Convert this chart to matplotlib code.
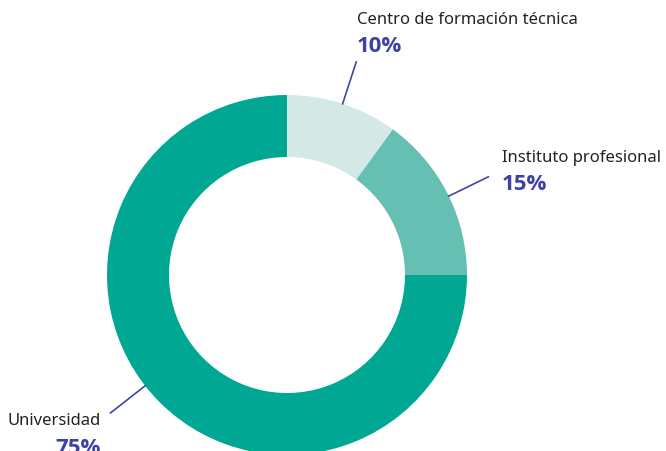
import numpy as np
import matplotlib.pyplot as plt

# Data
labels = ['Centro de formación técnica', 'Instituto profesional', 'Universidad']
values = [10, 15, 75]
pct_labels = ['10%', '15%', '75%']
colors = ['#d4e8e5', '#66bfb3', '#00a893']

fig = plt.figure(figsize=(6.66, 4.51), dpi=100)
ax = fig.add_axes([0, 0, 1, 1])

cx, cy, r = 287, 176, 180
wedges, _ = ax.pie(values, colors=colors, startangle=90, counterclock=False,
                   radius=r, center=(cx, cy), wedgeprops=dict(width=62, linewidth=0),
                   frame=True)
ax.set_xlim(0, 666)
ax.set_ylim(0, 451)
ax.set_aspect('equal')
ax.axis('off')

line_col = '#3f46a8'
pct_col = '#3d42a8'
# text anchors (x, y, alignment) and small nudge of leader angle
text_pos = [(357, 431, 'left'), (502, 293, 'left'), (101, 30, 'right')]
nudge = [0, -1, -7]

for w, lab, pct, (tx, ty, ha), dn in zip(wedges, labels, pct_labels, text_pos, nudge):
    ang = np.deg2rad((w.theta1 + w.theta2) / 2 + dn)
    x0, y0 = cx + r * np.cos(ang), cy + r * np.sin(ang)
    x1, y1 = cx + (r + 44) * np.cos(ang), cy + (r + 44) * np.sin(ang)
    ax.plot([x0, x1], [y0, y1], color=line_col, linewidth=1.2, clip_on=False)
    ax.text(tx, ty, lab, ha=ha, va='center', fontsize=12, color='#222222',
            family='Noto Sans')
    ax.text(tx, ty - 27, pct, ha=ha, va='center', fontsize=16, fontweight='bold',
            color=pct_col, family='Open Sans')

fig.savefig('out.png', dpi=100)
